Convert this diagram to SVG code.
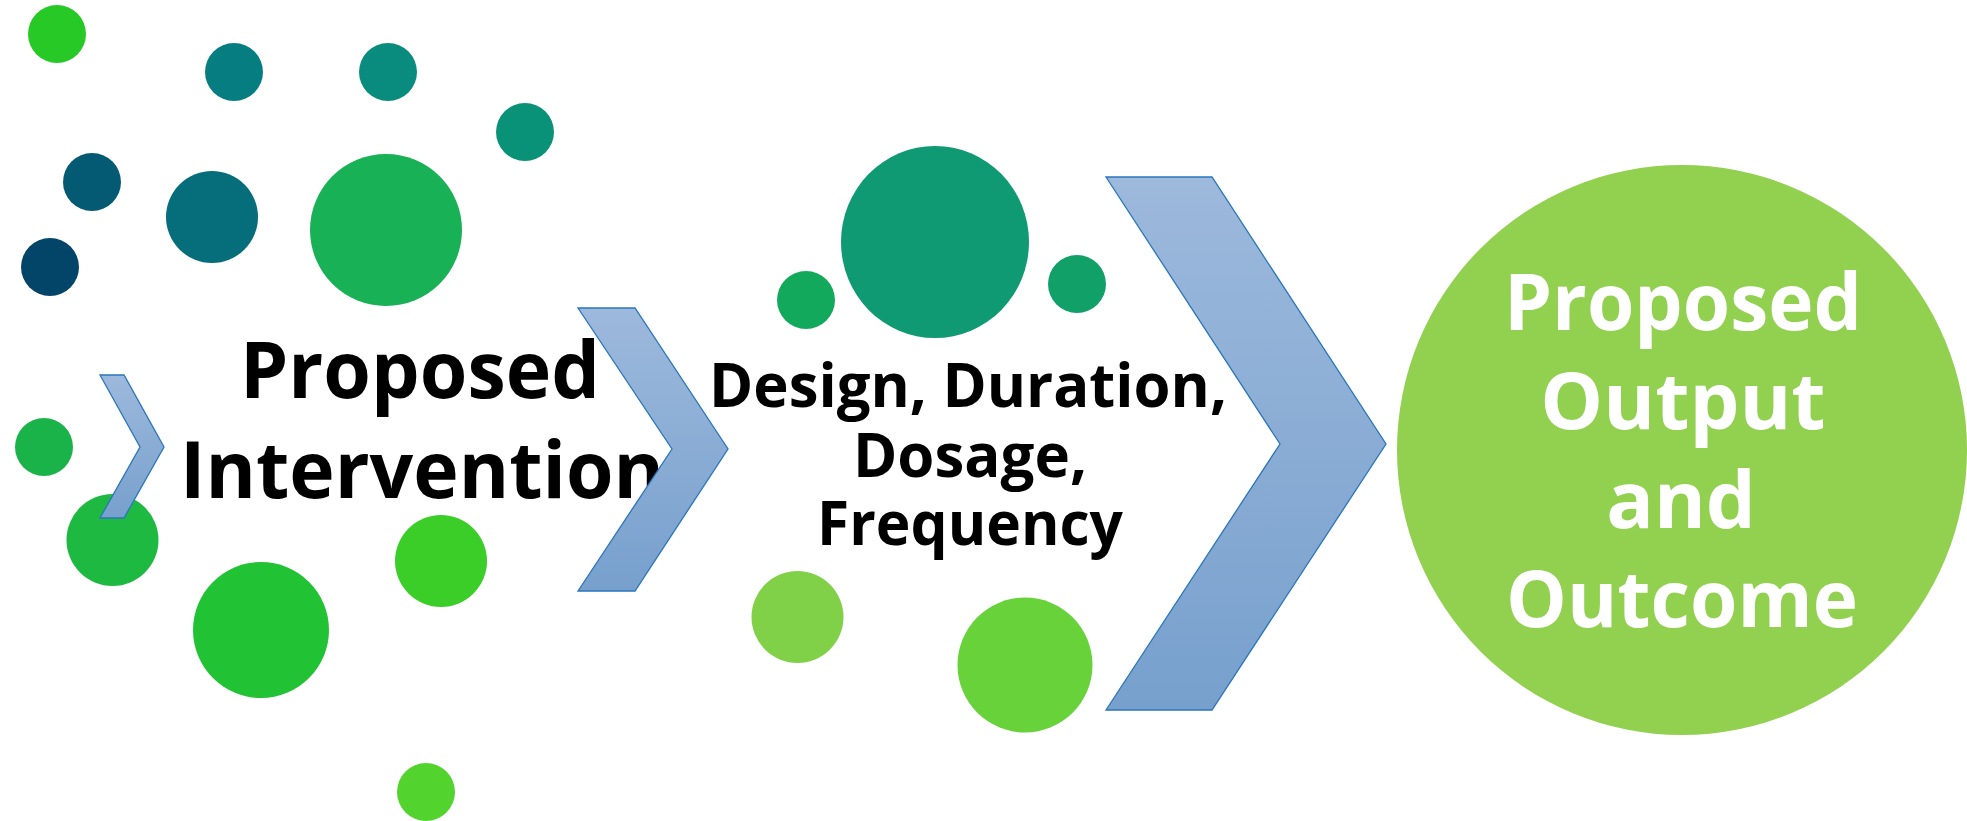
<svg xmlns="http://www.w3.org/2000/svg" width="1967" height="821" viewBox="0 0 1967 821">
<defs>
<linearGradient id="chev" x1="0" y1="0" x2="0" y2="1">
<stop offset="0" stop-color="#9DB9DC"/>
<stop offset="1" stop-color="#77A0CD"/>
</linearGradient>
<style>
.chev{fill:url(#chev);stroke:#2A76BB;stroke-width:1.3;stroke-linejoin:miter}
.lbl{font-family:"Open Sans","Noto Sans","Liberation Sans",sans-serif;font-weight:700;text-anchor:middle}
.blk{fill:#000}
.wht{fill:#fff}
</style>
</defs>
<rect width="1967" height="821" fill="#fff"/>
<g id="dots">
<circle cx="57" cy="34" r="29" fill="#26C926"/>
<circle cx="234" cy="72" r="29" fill="#067D80"/>
<circle cx="388" cy="72" r="29" fill="#098B7E"/>
<circle cx="525" cy="132" r="29" fill="#0A9278"/>
<circle cx="92" cy="182" r="29" fill="#045A73"/>
<circle cx="212" cy="217" r="46" fill="#066D7B"/>
<circle cx="386" cy="230" r="76" fill="#18B156"/>
<circle cx="50" cy="267" r="29" fill="#034469"/>
<circle cx="44" cy="447" r="29" fill="#19B34A"/>
<circle cx="112.5" cy="540" r="46" fill="#1DB941"/>
<circle cx="261" cy="630" r="68" fill="#21C234"/>
<circle cx="441" cy="561" r="46" fill="#3BCE29"/>
<circle cx="426" cy="792" r="29" fill="#52D32E"/>
<ellipse cx="935" cy="242" rx="94" ry="96" fill="#0F9A73"/>
<circle cx="806" cy="300" r="29" fill="#12A95D"/>
<circle cx="1077" cy="284" r="29" fill="#10A068"/>
<circle cx="797.5" cy="617" r="46" fill="#80D147"/>
<circle cx="1025" cy="665" r="67.5" fill="#68D23B"/>
</g>
<g id="node-intervention">
<text class="lbl blk" x="420" y="398" font-size="79" textLength="360" lengthAdjust="spacingAndGlyphs">Proposed</text>
<text class="lbl blk" x="422" y="498" font-size="79" textLength="484" lengthAdjust="spacingAndGlyphs">Intervention</text>
</g>
<g id="node-design">
<text class="lbl blk" x="968" y="407" font-size="60" textLength="518" lengthAdjust="spacingAndGlyphs">Design, Duration,</text>
<text class="lbl blk" x="970" y="477" font-size="60">Dosage,</text>
<text class="lbl blk" x="970" y="545" font-size="60" textLength="306" lengthAdjust="spacingAndGlyphs">Frequency</text>
</g>
<g id="node-outcome">
<circle cx="1682" cy="450" r="285" fill="#92D050"/>
<text class="lbl wht" x="1683" y="330" font-size="79" textLength="358" lengthAdjust="spacingAndGlyphs">Proposed</text>
<text class="lbl wht" x="1683" y="429" font-size="79">Output</text>
<text class="lbl wht" x="1681" y="528" font-size="79">and</text>
<text class="lbl wht" x="1682" y="627" font-size="79" textLength="352" lengthAdjust="spacingAndGlyphs">Outcome</text>
</g>
<g id="connectors">
<polygon class="chev" points="100,375 124,375 164,447 124,518 100,518 140,447"/>
<polygon class="chev" points="578,308 635,308 728,449 635,591 578,591 672,449"/>
<polygon class="chev" points="1106,177 1212,177 1386,444 1212,710 1106,710 1280,444"/>
</g>
</svg>
